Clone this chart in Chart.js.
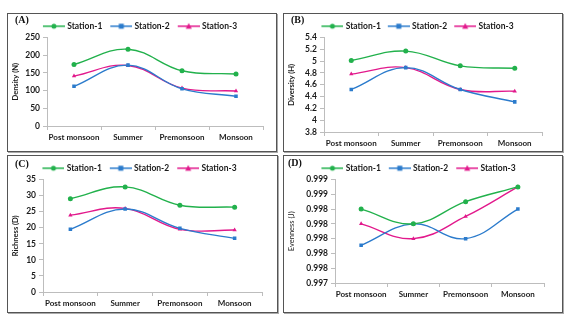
<!DOCTYPE html>
<html>
<head>
<meta charset="utf-8">
<script src="https://cdn.jsdelivr.net/npm/chart.js@4.4.1/dist/chart.umd.min.js"></script>
<style>
  body { margin: 0; background: #fff; width: 574px; height: 326px; position: relative; overflow: hidden; }
  .panel { position: absolute; box-sizing: border-box; border: 1px solid #555; box-shadow: 1px 1px 0 #aaa; }
  .panel canvas { position: absolute; left: 0; top: 0; }
  .tag { position: absolute; font: bold 10px "Liberation Serif", serif; color: #111; }
</style>
</head>
<body>
<div class="panel" style="left:7px;top:13px;width:270px;height:139px"><canvas id="chartA"></canvas></div>
<div class="panel" style="left:283px;top:13px;width:280px;height:139px"><canvas id="chartB"></canvas></div>
<div class="panel" style="left:7px;top:155px;width:271px;height:158px"><canvas id="chartC"></canvas></div>
<div class="panel" style="left:283px;top:155px;width:280px;height:158px"><canvas id="chartD"></canvas></div>
<div class="tag" style="left:15px;top:14px">(A)</div>
<div class="tag" style="left:291px;top:14px">(B)</div>
<div class="tag" style="left:15px;top:158px">(C)</div>
<div class="tag" style="left:288px;top:157px">(D)</div>
<script>
// seasons on the x axis
const seasons = ['Post monsoon', 'Summer', 'Premonsoon', 'Monsoon']
const stations = ['Station-1', 'Station-2', 'Station-3']

// (A) density
const densityS1 = [174, 217, 156, 147]
const densityS2 = [112, 172, 105, 84]
const densityS3 = [141, 171, 107, 99]

// (B) diversity
const diversityS1 = [5.01, 5.17, 4.92, 4.88]
const diversityS2 = [4.52, 4.89, 4.52, 4.31]
const diversityS3 = [4.78, 4.89, 4.52, 4.49]

// (C) richness
const richnessS1 = [29.0, 32.7, 27.0, 26.4]
const richnessS2 = [19.5, 25.8, 19.8, 16.7]
const richnessS3 = [23.9, 26.0, 19.5, 19.3]

// (D) evenness
const evennessS1 = [0.9984, 0.9982, 0.9985, 0.9987]
const evennessS2 = [0.99791, 0.9982, 0.9980, 0.9984]
const evennessS3 = [0.9982, 0.9980, 0.9983, 0.9987]

const colors = ['#22b14c', '#2b7bcc', '#e2198c']
const markers = ['circle', 'rect', 'triangle']
const fontFam = 'Lato, "Liberation Sans", sans-serif'
const axisColor = '#bdbdbd'

// little line + marker picture for the legend (blank lead-in gives the gap between items)
function legendIcon(color, marker) {
  const c = document.createElement('canvas')
  c.width = 30
  c.height = 8
  const g = c.getContext('2d')
  g.strokeStyle = color
  g.lineWidth = 1.5
  g.beginPath()
  g.moveTo(8, 4)
  g.lineTo(30, 4)
  g.stroke()
  g.fillStyle = color
  if (marker == 'circle') {
    g.beginPath(); g.arc(19, 4, 2.5, 0, Math.PI * 2); g.fill()
  } else if (marker == 'rect') {
    g.fillRect(16.5, 1.5, 5, 5)
  } else {
    g.beginPath(); g.moveTo(19, 0.8); g.lineTo(22, 6.5); g.lineTo(16, 6.5); g.closePath(); g.fill()
  }
  return c
}
const icons = colors.map((c, i) => legendIcon(c, markers[i]))

// nudge the legend down a little without moving the plot
const legendNudge = {
  id: 'legendNudge',
  afterLayout(chart, args, opts) {
    chart.legend.top += opts.dy
    chart.legend.bottom += opts.dy
  }
}

function makeChart(id, w, h, series, yMin, yMax, step, fmt, yTitle, titleWeight, lay) {
  const canvas = document.getElementById(id)
  canvas.width = w
  canvas.height = h
  canvas.style.width = w + 'px'
  canvas.style.height = h + 'px'
  return new Chart(canvas, {
    type: 'line',
    data: {
      labels: seasons,
      datasets: series.map((d, i) => ({
        label: stations[i],
        data: d,
        borderColor: colors[i],
        backgroundColor: colors[i],
        borderWidth: 1.4,
        pointStyle: markers[i],
        pointRadius: 2.5,
        pointBorderWidth: 0,
        tension: 0.4
      }))
    },
    plugins: [legendNudge],
    options: {
      responsive: false,
      animation: false,
      layout: { padding: lay.pad },
      plugins: {
        legendNudge: { dy: lay.dy },
        tooltip: { enabled: false },
        legend: {
          position: 'top',
          labels: {
            usePointStyle: true,
            pointStyleWidth: 26,
            boxHeight: 8,
            padding: lay.legPad,
            color: '#1a1a1a',
            font: { family: fontFam, size: 8.5, weight: 'bold' },
            generateLabels(chart) {
              const items = Chart.defaults.plugins.legend.labels.generateLabels(chart)
              items.forEach((it, i) => { it.pointStyle = icons[i] })
              return items
            }
          }
        }
      },
      scales: {
        x: {
          offset: true,
          grid: { offset: true, drawOnChartArea: false, color: axisColor, tickLength: 4 },
          border: { color: axisColor },
          ticks: { color: '#1a1a1a', padding: 3, maxRotation: 0, autoSkip: false,
            font: { family: fontFam, size: 8, weight: 'bold' } },
          afterFit(s) { s.height = lay.xh }
        },
        y: {
          min: yMin,
          max: yMax,
          grid: { drawOnChartArea: false, color: axisColor, tickLength: 4 },
          border: { color: axisColor },
          ticks: { stepSize: step, autoSkip: false, color: '#1a1a1a', padding: 3,
            font: { family: fontFam, size: 8.5, weight: 'bold' }, callback: fmt },
          title: { display: true, text: yTitle, color: '#1a1a1a', padding: 0,
            font: { family: fontFam, size: 7.5, weight: titleWeight } },
          afterFit(s) { s.width = lay.yw }
        }
      }
    }
  })
}

const plain = v => String(Number(v.toFixed(1)))
const three = v => v.toFixed(3)

makeChart('chartA', 268, 137, [densityS1, densityS2, densityS3], 0, 250, 50, plain,
  'Density (N)', 'bold', { pad: { left: 3, right: 13, top: 3, bottom: 7 }, legPad: 2, xh: 18, yw: 36, dy: 3 })
makeChart('chartB', 278, 137, [diversityS1, diversityS2, diversityS3], 3.8, 5.4, 0.2, plain,
  'Diversity (H)', 'bold', { pad: { left: 3, right: 20, top: 4, bottom: 1 }, legPad: 1, xh: 18, yw: 37, dy: 3 })
makeChart('chartC', 269, 156, [richnessS1, richnessS2, richnessS3], 0, 35, 5, plain,
  'Richness (D)', 'bold', { pad: { left: 3, right: 15, top: 3, bottom: 2 }, legPad: 2, xh: 18, yw: 32, dy: 3 })
makeChart('chartD', 278, 156, [evennessS1, evennessS2, evennessS3], 0.9974, 0.9988, 0.0002, three,
  'Evenness (J)', 'normal', { pad: { left: 3, right: 18, top: 3, bottom: 11 }, legPad: 2, xh: 18, yw: 48, dy: 3 })
</script>
</body>
</html>
